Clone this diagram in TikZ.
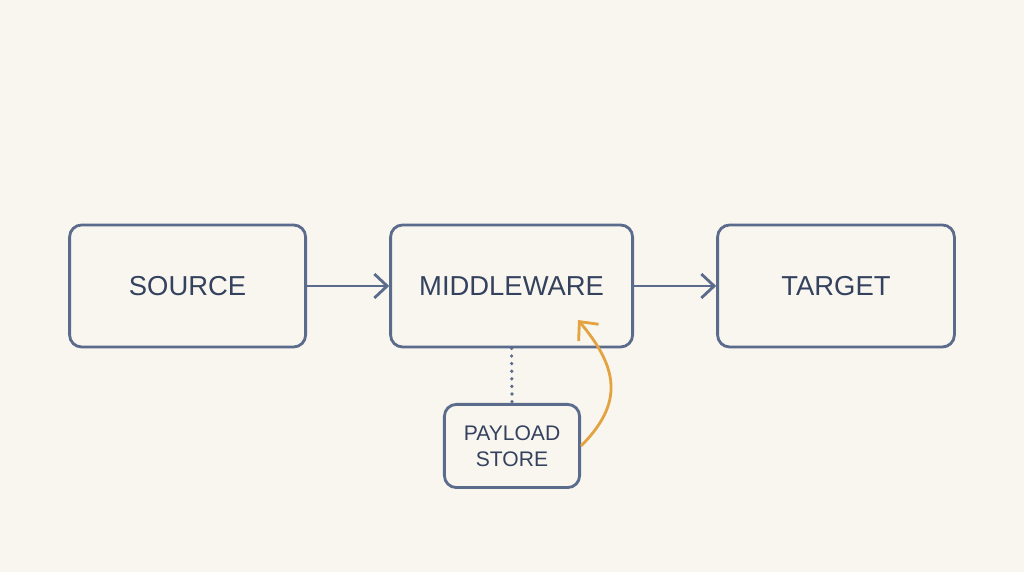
\documentclass[tikz,border=0pt]{standalone}
\usepackage{fontspec}
\setmainfont{Liberation Sans}
\usepackage{tikz}
\usetikzlibrary{arrows.meta, positioning}
\definecolor{mybg}{RGB}{249,246,240}
\definecolor{myslate}{RGB}{90,107,140}
\definecolor{myink}{RGB}{52,66,94}
\definecolor{myorange}{RGB}{226,163,64}

\begin{document}
\begin{tikzpicture}[
    box/.style={draw=myslate,line width=2pt,rounded corners=0.3cm,text=myink,align=center},
    flow/.style={-{Straight Barb[length=3.2mm,width=6mm]},line width=2pt,myslate}
]
    % Canvas
    \fill[mybg] (0,0) rectangle (25.6,14.3);

    % Main boxes
    \node[box,minimum width=5.9cm,minimum height=3.05cm,font=\fontsize{19.5}{23}\selectfont] (source) at (4.69,7.15) {SOURCE};
    \node[box,minimum width=6.05cm,minimum height=3.05cm,font=\fontsize{19.5}{23}\selectfont] (mw) at (12.79,7.15) {MIDDLEWARE};
    \node[box,minimum width=5.92cm,minimum height=3.05cm,font=\fontsize{19.5}{23}\selectfont] (target) at (20.9,7.15) {TARGET};

    % Payload store
    \node[box,minimum width=3.38cm,minimum height=2.08cm,font=\fontsize{15}{18.4}\selectfont] (store) at (12.8,3.15) {PAYLOAD\\STORE};
    \coordinate (mwtip) at (14.45,6.3);

    % Arrows
    \draw[flow] (source.east) -- (mw.west);
    \draw[flow] (mw.east) -- (target.west);
    \draw[myslate,line width=2.6pt,line cap=round,dash pattern=on 0pt off 0.19cm] (mw.south) -- (store.north);
    \draw[myorange,line width=2pt,-{Straight Barb[length=3.6mm,width=6.5mm]}] (store.east) to[out=45,in=-50,looseness=1.25] (mwtip);
\end{tikzpicture}
\end{document}
